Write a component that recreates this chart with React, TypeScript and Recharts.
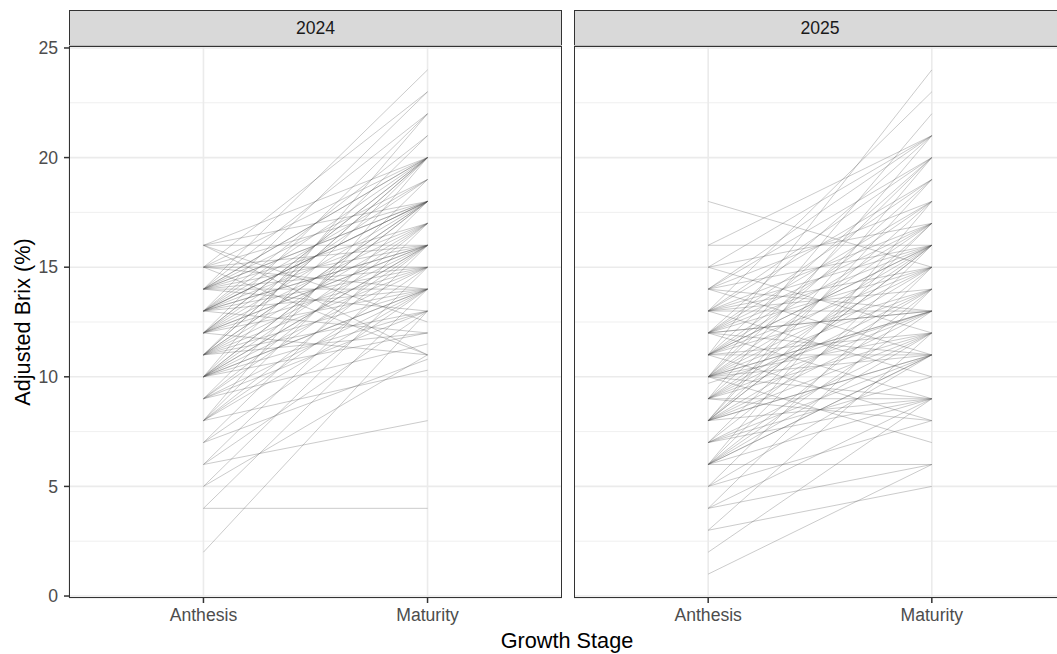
import React from "react";
import {
  LineChart,
  Line,
  XAxis,
  YAxis,
  CartesianGrid,
} from "recharts";

// growth stages on the x axis (1 = Anthesis, 2 = Maturity)
const stages = ["Anthesis", "Maturity"];
const years = ["2024", "2025"];

// paired values, one entry per plant
const anthesis2024 = [
  2, 4, 4, 5, 5, 6, 6, 6, 7, 7, 8, 8, 8, 8, 8, 8, 9, 9, 9, 9, 9, 10, 10, 10, 10, 10, 10, 10, 10, 10,
  11, 11, 11, 11, 11, 11, 11, 11, 11, 12, 12, 12, 12, 12, 12, 12, 12, 12, 13, 13, 13, 13, 13, 13, 13,
  13, 13, 13, 13, 14, 14, 14, 14, 14, 14, 14, 14, 14, 14, 14, 15, 15, 15, 15, 15, 15, 15, 16, 16, 16,
  16, 16, 9, 7, 11, 10, 10, 11, 12, 13, 14, 13, 12, 10,
];
const maturity2024 = [
  13, 4, 14, 15, 11, 8, 16, 13, 14, 17, 10.3, 14, 15, 16, 18, 20, 11.5, 14, 16, 17, 19, 12, 14, 15, 16,
  18, 18, 20, 22, 17, 13, 14, 15, 16, 18, 20, 20, 21, 17, 11, 14, 16, 18, 19, 20, 22, 15, 17, 12, 14, 15,
  16, 17, 18, 18, 20, 21, 23, 19, 13, 14, 16, 17, 18, 20, 20, 22, 24, 15, 19, 11, 15, 16, 18, 20, 23, 14,
  16, 11, 12.5, 18, 20, 13, 10.8, 12, 13, 16, 18, 16, 18, 18, 16, 20, 14,
];

const anthesis2025 = [
  1, 2, 3, 3, 4, 4, 4, 5, 5, 5, 6, 6, 6, 6, 6, 6, 6, 6, 7, 7, 7, 7, 7, 8, 8, 8, 8, 8, 8, 8, 8, 8, 9, 9,
  9, 9, 9, 9, 9, 9, 9, 10, 10, 10, 10, 10, 10, 10, 10, 10, 10, 10, 11, 11, 11, 11, 11, 11, 11, 11, 11,
  11, 12, 12, 12, 12, 12, 12, 12, 12, 12, 13, 13, 13, 13, 13, 13, 13, 13, 13, 14, 14, 14, 14, 14, 14,
  15, 15, 15, 16, 16, 18, 9.7, 10, 7, 8, 10, 11, 12, 6, 8,
];
const maturity2025 = [
  6, 9, 5, 12, 6, 9, 14, 8, 11, 15, 6, 9, 11, 12, 13, 16, 18, 14, 9, 12, 15, 17, 11, 9, 11, 12, 13, 14,
  16, 17, 19, 20, 9, 8, 12, 13, 15, 16, 18, 21, 14, 7, 9, 11, 12, 13, 14, 16, 17, 19, 22, 15, 8, 11, 12,
  14, 15, 16, 17, 18, 20, 24, 9, 11, 13, 15, 16, 17, 19, 21, 18, 10, 13, 14, 16, 17, 19, 20, 23, 15, 11,
  13, 16, 18, 20, 21, 12, 17, 21, 16, 21, 15, 13, 20, 10, 16, 13, 16, 13, 11, 11,
];

const yTicks = [0, 5, 10, 15, 20, 25];
const yMinor = [2.5, 7.5, 12.5, 17.5, 22.5];

const FONT = '"Liberation Sans", Arial, sans-serif';
const BORDER = "#333333";
const GRID = "#ebebeb";

const PANEL_TOP = 46;
const PANEL_H = 552;
const STRIP_TOP = 10;

function buildRows(a: number[], m: number[]) {
  const start: Record<string, number> = { x: 1 };
  const end: Record<string, number> = { x: 2 };
  a.forEach((v, i) => {
    start[`p${i}`] = v;
    end[`p${i}`] = m[i];
  });
  return [start, end];
}

type PanelProps = {
  year: string;
  a: number[];
  m: number[];
  left: number;
  axisW: number;
  panelW: number;
};

const Panel = ({ year, a, m, left, axisW, panelW }: PanelProps) => {
  const rows = buildRows(a, m);
  return (
    <>
      <div
        style={{
          position: "absolute",
          left: left + axisW,
          top: STRIP_TOP,
          width: panelW,
          height: PANEL_TOP - STRIP_TOP,
          boxSizing: "border-box",
          background: "#d9d9d9",
          border: `1.5px solid ${BORDER}`,
          display: "flex",
          alignItems: "center",
          justifyContent: "center",
          fontFamily: FONT,
          fontSize: 17.6,
          color: "#1a1a1a",
        }}
      >
        {year}
      </div>
      <div style={{ position: "absolute", left, top: 0 }}>
        <LineChart
          width={axisW + panelW}
          height={654}
          data={rows}
          margin={{ top: PANEL_TOP, right: 0, left: 0, bottom: 0 }}
        >
          <CartesianGrid stroke={GRID} strokeWidth={1.6} />
          <CartesianGrid
            stroke={GRID}
            strokeWidth={0.8}
            vertical={false}
            horizontalValues={yMinor}
          />
          <XAxis
            dataKey="x"
            type="number"
            domain={[0.4, 2.6]}
            ticks={[1, 2]}
            allowDataOverflow
            tickFormatter={(v: number) => stages[v - 1]}
            height={654 - PANEL_TOP - PANEL_H}
            axisLine={false}
            tickLine={{ stroke: BORDER, strokeWidth: 1.5 }}
            tickSize={5}
            tickMargin={6}
            tick={{ fill: "#4d4d4d", fontSize: 17.6, fontFamily: FONT }}
          />
          <YAxis
            type="number"
            domain={[-0.09, 25.09]}
            ticks={yTicks}
            allowDataOverflow
            width={axisW}
            hide={axisW === 0}
            axisLine={false}
            tickLine={{ stroke: BORDER, strokeWidth: 1.5 }}
            tickSize={5}
            tickMargin={6}
            tick={{ fill: "#4d4d4d", fontSize: 17.6, fontFamily: FONT }}
          />
          {a.map((_, i) => (
            <Line
              key={i}
              dataKey={`p${i}`}
              stroke="#555555"
              strokeOpacity={0.34}
              strokeWidth={0.9}
              dot={false}
              activeDot={false}
              isAnimationActive={false}
            />
          ))}
        </LineChart>
      </div>
      <div
        style={{
          position: "absolute",
          left: left + axisW,
          top: PANEL_TOP,
          width: panelW,
          height: PANEL_H,
          boxSizing: "border-box",
          border: `1.5px solid ${BORDER}`,
          pointerEvents: "none",
        }}
      />
    </>
  );
};

export default function App() {
  return (
    <div
      style={{
        position: "absolute",
        left: 0,
        top: 0,
        width: 1057,
        height: 654,
        overflow: "hidden",
        background: "#ffffff",
        fontFamily: FONT,
      }}
    >
      <Panel year={years[0]} a={anthesis2024} m={maturity2024} left={0} axisW={69} panelW={493} />
      <Panel year={years[1]} a={anthesis2025} m={maturity2025} left={574} axisW={0} panelW={492} />
      <div
        style={{
          position: "absolute",
          left: 567,
          top: 641,
          transform: "translate(-50%, -50%)",
          whiteSpace: "nowrap",
          fontSize: 21.7,
          color: "#000000",
        }}
      >
        Growth Stage
      </div>
      <div
        style={{
          position: "absolute",
          left: 23,
          top: 322,
          transform: "translate(-50%, -50%) rotate(-90deg)",
          whiteSpace: "nowrap",
          fontSize: 21.7,
          color: "#000000",
        }}
      >
        Adjusted Brix (%)
      </div>
    </div>
  );
}
